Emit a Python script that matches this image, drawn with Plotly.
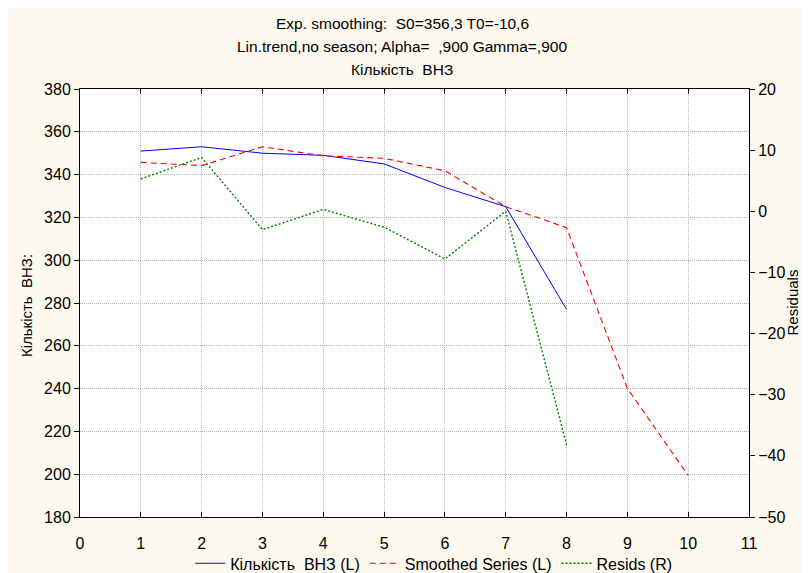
import plotly.graph_objects as go

x_actual = [1, 2, 3, 4, 5, 6, 7, 8]
actual = [351, 353, 350, 349, 345, 334, 325, 277]
x_smooth = [1, 2, 3, 4, 5, 6, 7, 8, 9, 10]
smoothed = [345.7, 344.2, 353.0, 348.8, 347.6, 341.8, 325.0, 315.2, 240.1, 199.4]
resids = [5.3, 8.8, -3.0, 0.3, -2.6, -7.8, 0.0, -38.2]

title_lines = ["Exp. smoothing:  S0=356,3 T0=-10,6",
               "Lin.trend,no season; Alpha=  ,900 Gamma=,900",
               "Кількість  ВНЗ"]
names = ["Кількість  ВНЗ (L)", "Smoothed Series (L)", "Resids (R)"]

FONT = "Liberation Sans, Arial, sans-serif"
CREAM = "#FDF9EF"
GRID = "#B4B4B4"

fig = go.Figure()
fig.add_trace(go.Scatter(x=x_actual, y=actual, mode="lines", name=names[0],
                         line=dict(color="#0000FF", width=1)))
fig.add_trace(go.Scatter(x=x_smooth, y=smoothed, mode="lines", name=names[1],
                         line=dict(color="#FF0000", width=1.1, dash="6px,4px")))
fig.add_trace(go.Scatter(x=x_actual, y=resids, mode="lines", name=names[2], yaxis="y2",
                         line=dict(color="#008000", width=1.4, dash="2px,2px")))

# figure geometry (page offset of 8px from body margin)
OFF = 8
W, H = 801, 565
L, T = 80 - OFF, 89.3 - OFF
R = W - (749.5 - OFF)
B = H - (516.7 - OFF)
pw, ph = W - L - R, H - T - B

def px(xp):
    return (xp - OFF - L) / pw

def py(yp):
    return (H - B - (yp - OFF)) / ph

for t, yy in zip(title_lines, [24, 47, 70]):
    fig.add_annotation(text=t, xref="paper", yref="paper", x=px(402.5), y=py(yy),
                       xanchor="center", yanchor="middle", showarrow=False,
                       font=dict(size=15.5, color="black", family=FONT))

fig.add_annotation(text="Кількість  ВНЗ:", xref="paper", yref="paper", x=px(26), y=py(306),
                   textangle=-90, xanchor="center", yanchor="middle", showarrow=False,
                   font=dict(size=15, color="black", family=FONT))
fig.add_annotation(text="Residuals", xref="paper", yref="paper", x=px(794), y=py(302),
                   textangle=-90, xanchor="center", yanchor="middle", showarrow=False,
                   font=dict(size=15, color="black", family=FONT))

fig.update_layout(
    width=W, height=H,
    margin=dict(l=L, r=R, t=T, b=B, pad=0, autoexpand=False),
    paper_bgcolor=CREAM, plot_bgcolor="white",
    font=dict(family=FONT, size=16, color="black"),
    showlegend=True,
    legend=dict(orientation="h", x=px(434), xanchor="center", y=py(563), yanchor="middle",
                bgcolor="rgba(0,0,0,0)", font=dict(size=16, family=FONT), traceorder="normal",
                itemwidth=30),
    xaxis=dict(range=[0, 11], dtick=1, tick0=0, showline=True, linecolor="black", linewidth=1,
               mirror="ticks", ticks="inside", ticklen=5, tickcolor="black",
               showgrid=True, gridcolor=GRID, griddash="1px,1px", gridwidth=1,
               zeroline=False, tickfont=dict(size=16), ticklabelstandoff=12),
    yaxis=dict(range=[180, 380], dtick=20, tick0=180, showline=True, linecolor="black", linewidth=1,
               mirror=True, ticks="outside", ticklen=5, tickcolor="black",
               showgrid=True, gridcolor=GRID, griddash="1px,1px", gridwidth=1,
               zeroline=False, tickfont=dict(size=16)),
    yaxis2=dict(range=[-50, 20], dtick=10, tick0=-50, overlaying="y", side="right",
                showline=True, linecolor="black", linewidth=1, ticks="outside", ticklen=5,
                tickcolor="black", showgrid=False, zeroline=False, tickfont=dict(size=16)),
)

fig.write_html("out.html")
